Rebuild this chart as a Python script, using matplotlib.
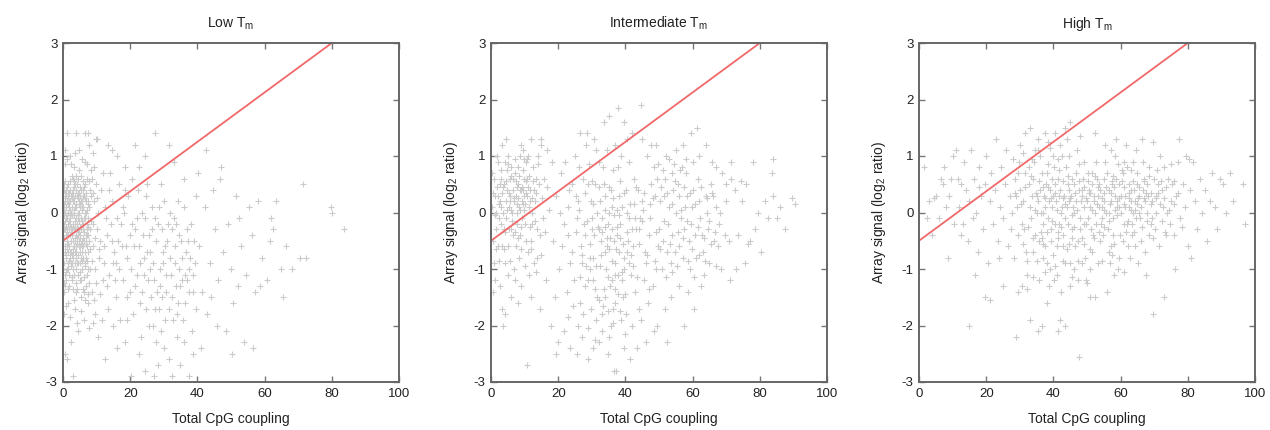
import matplotlib
matplotlib.use("Agg")
import matplotlib.pyplot as plt
import numpy as np

plt.rcParams['font.family'] = ['Liberation Sans', 'DejaVu Sans']
plt.rcParams['axes.unicode_minus'] = False

# fitted line shared by all panels: y = a + b*x
line_x = [0, 80]
line_intercept = -0.5
line_slope = 0.04375

titles = ['Low T$_\\mathregular{m}$', 'Intermediate T$_\\mathregular{m}$', 'High T$_\\mathregular{m}$']

low_pts = [
    (0.3,-0.2),(0.8,0.1),(1.2,-0.5),(1.6,0.3),(2.1,-0.1),(2.5,-0.7),(3.0,0.2),(3.4,-0.3),(3.9,0.4),(4.3,-0.9),
    (4.8,0.0),(5.2,-0.4),(5.7,0.2),(6.1,-0.6),(6.6,0.5),(7.0,-0.2),(7.5,-1.0),(0.5,-1.1),(1.0,-0.8),(1.4,0.5),
    (1.9,-1.3),(2.3,0.0),(2.8,-0.4),(3.2,-1.1),(3.7,0.1),(4.1,-0.2),(4.6,0.6),(5.0,-1.2),(5.5,-0.8),(5.9,0.3),
    (6.4,-0.1),(6.8,-1.3),(7.3,0.2),(7.8,-0.5),(0.2,0.4),(0.7,-0.6),(1.1,-0.3),(1.5,-1.0),(2.0,0.2),(2.4,-0.9),
    (2.9,0.6),(3.3,-0.6),(3.8,-1.4),(4.2,0.3),(4.7,-0.5),(5.1,0.1),(5.6,-1.0),(6.0,-0.3),(6.5,-0.9),(6.9,0.0),
    (7.4,-0.7),(7.9,0.4),(0.4,-1.4),(0.9,0.3),(1.3,-0.1),(1.8,-0.6),(2.2,0.4),(2.7,-1.2),(3.1,-0.2),(3.6,0.5),
    (4.0,-0.7),(4.5,-1.1),(4.9,0.2),(5.4,-0.1),(5.8,-0.6),(6.3,0.3),(6.7,-0.4),(7.2,-1.1),(7.7,0.1),(0.6,0.0),
    (1.0,-1.2),(1.7,0.1),(2.6,-0.3),(3.5,-0.9),(4.4,0.0),(5.3,0.4),(6.2,-1.4),(7.1,0.6),(0.1,-0.7),(8.0,-0.3),
    (0.8,-0.4),(1.5,0.0),(2.3,-0.5),(3.0,-0.8),(3.8,-0.1),(4.5,-0.4),(5.2,-0.7),(6.0,0.1),(6.7,-0.8),(7.5,-0.4),
    (0.3,-0.9),(1.2,0.2),(2.0,-0.8),(2.9,-1.0),(3.7,-0.5),(4.6,-0.1),(5.5,-0.3),(6.3,-0.5),(7.2,-0.6),(0.9,-0.1),
    (1.8,-0.3),(2.6,0.1),(3.4,0.0),(4.3,-0.3),(5.1,-0.9),(6.0,-0.8),(6.9,-0.5),(0.5,0.2),(1.4,-0.7),(2.2,-0.2),
    (3.1,0.3),(3.9,-0.4),(4.8,-0.6),(5.7,-0.5),(6.5,0.0),(7.4,-0.1),
    (0.4,-1.8),(1.6,-1.6),(2.5,-2.3),(3.6,-1.7),(4.4,-2.1),(5.3,-1.5),(6.2,-1.9),(7.3,-1.6),(8.5,-1.4),(9.4,-1.8),
    (0.6,-2.5),(1.3,-2.6),(3.0,-2.9),(2.0,1.0),(3.3,0.8),(4.9,1.1),(6.4,0.9),(7.8,1.2),(9.1,0.8),(10.2,1.3),
    (1.1,1.4),(0.5,1.1),(6.6,1.4),(8.6,0.6),(9.3,0.2),(10.1,-0.3),(10.7,-0.8),(11.3,0.4),(11.8,-1.2),(8.8,-0.6),
    (9.6,-1.0),(10.4,0.0),(11.0,-0.5),(11.9,0.7),(8.3,0.3),(9.0,-0.2),(12.2,-0.9),(12.6,0.1),(8.1,-1.0),(9.8,0.5),
    (13.0,-0.4),(13.8,-1.1),(14.5,0.2),(15.2,-0.7),(15.9,-1.5),(16.6,0.5),(17.3,-0.2),(18.0,-1.2),(18.7,-0.6),(19.4,0.3),
    (20.1,-1.0),(20.8,-1.8),(21.5,-0.3),(22.2,0.4),(22.9,-0.9),(23.6,-1.4),(24.3,-0.1),(25.0,-0.7),(25.7,-2.0),(26.4,0.1),
    (27.1,-1.2),(27.8,-0.5),(28.5,-1.7),(29.2,0.5),(29.9,-0.9),(30.6,-1.4),(31.3,-0.2),(32.0,-1.1),(32.7,-1.9),(33.4,-0.6),
    (34.1,0.2),(34.8,-1.3),(35.5,-0.8),(36.2,-1.6),(36.9,-0.3),(37.6,-1.0),(38.3,-2.1),(39.0,-0.5),(13.4,-1.7),(14.1,0.7),
    (14.9,-0.9),(16.0,-0.1),(17.0,-1.9),(17.8,0.1),(18.9,-1.5),(19.8,-0.4),(20.6,0.6),(21.3,-1.3),(22.5,-0.6),(23.2,-2.2),
    (24.0,-1.1),(24.8,0.3),(25.5,-0.4),(26.2,-1.5),(26.9,-0.9),(27.6,-2.3),(28.3,-0.2),(29.0,-1.3),(29.7,-0.7),(30.4,-1.9),
    (31.1,-0.5),(31.8,0.0),(32.5,-1.5),(33.2,-0.9),(33.9,-1.8),(34.6,-0.4),(35.3,-1.2),(36.0,0.1),(36.7,-0.7),(37.4,-1.4),
    (38.1,-0.2),(38.8,-1.1),(39.5,-1.7),(12.8,-0.1),(13.6,0.4),(15.5,-1.2),(16.3,-0.5),(18.4,0.4),(19.1,-0.8),(21.0,-0.6),
    (23.8,-0.4),(25.3,-1.2),(27.4,-0.1),(30.0,0.2),(31.5,-1.7),(33.7,-0.2),(35.8,-1.9),(37.1,-0.5),(28.8,-1.0),(26.0,-0.7),
    (3.8,1.4),(7.5,1.4),(9.8,1.3),(13.5,1.2),(16.0,1.0),(18.5,0.8),(21.5,1.2),(24.5,1.0),(27.5,1.4),(31.5,1.2),
    (33.0,0.9),(22.5,0.8),(14.5,1.1),(36.0,0.6),
    (10.5,-2.2),(12.4,-2.6),(14.8,-2.0),(16.2,-2.4),(18.4,-2.3),(20.2,-2.9),(22.6,-2.5),(24.5,-2.8),(26.8,-2.0),(28.2,-2.7),
    (30.2,-2.4),(31.6,-2.6),(32.4,-2.9),(33.8,-2.2),(34.8,-2.7),(35.9,-2.3),(37.4,-2.9),(38.8,-2.5),(29.3,-2.1),(27.0,-2.9),
    (40.5,-0.6),(41.4,-1.4),(42.2,0.1),(43.0,-1.8),(43.8,-0.9),(44.5,0.4),(45.3,-0.3),(46.1,-1.2),(46.8,0.6),(47.6,-0.7),
    (48.4,-2.1),(49.1,-0.2),(49.9,-1.0),(50.7,-1.6),(51.5,0.3),(52.2,-1.3),(53.0,-0.6),(53.8,-2.3),(54.6,-1.1),(55.4,0.1),
    (56.2,-0.4),(57.0,-1.4),(58.0,0.2),(59.2,-0.8),(60.6,-1.2),(62.0,-0.1),(62.4,-0.3),(63.5,0.2),(64.8,-1.0),(66.5,-0.6),
    (68.3,-1.0),(70.4,-0.8),(71.4,0.5),(72.3,-0.8),(79.8,0.1),(80.1,0.0),(83.5,-0.3),(41.0,-2.4),(44.0,-1.5),(47.0,0.8),
    (50.3,-2.5),(52.5,-0.1),(56.5,-2.4),(58.6,-1.3),(61.5,-0.5),(65.5,-1.5),(42.5,1.1),(40.2,0.7),(45.8,-2.0),(39.7,0.3),
]

low_dense = [
    (0.15,0.05),(0.35,-0.45),(0.55,0.35),(0.75,-0.25),(0.95,-1.05),(1.15,0.45),(1.35,-0.55),(1.55,0.15),(1.75,-0.85),(1.95,-0.05),
    (2.15,0.55),(2.35,-0.35),(2.55,-1.15),(2.75,0.25),(2.95,-0.65),(3.15,0.05),(3.35,0.45),(3.55,-0.45),(3.75,-1.25),(3.95,0.15),
    (4.15,-0.55),(4.35,0.35),(4.55,-0.75),(4.75,-0.15),(4.95,0.45),(5.15,-1.05),(5.35,-0.25),(5.55,0.05),(5.75,-0.85),(5.95,0.55),
    (6.15,-0.35),(6.35,-1.15),(6.55,0.25),(6.75,-0.55),(6.95,0.35),(7.15,-0.85),(7.35,-0.25),(7.55,0.15),(7.75,-1.25),(7.95,-0.65),
    (0.25,-1.25),(0.65,0.55),(1.05,-0.65),(1.45,-1.35),(1.85,0.35),(2.25,-0.95),(2.65,0.65),(3.05,-1.35),(3.45,-0.15),(3.85,0.65),
    (4.25,-1.35),(4.65,0.15),(5.05,-0.45),(5.45,0.65),(5.85,-1.35),(6.25,0.45),(6.65,-0.95),(7.05,0.05),(7.45,-1.45),(7.85,0.55),
    (8.25,-0.15),(8.65,-0.85),(9.05,0.35),(9.45,-0.45),(9.85,-1.25),(10.25,0.25),(10.65,-0.65),(11.05,-1.45),(8.45,0.75),(9.25,-1.55),
    (0.45,0.85),(1.25,0.95),(2.45,0.85),(3.65,1.05),(4.85,0.75),(5.65,0.95),(7.25,0.85),(8.95,1.05),(0.85,-1.65),(2.05,-1.85),
    (3.25,-1.55),(4.05,-1.95),(5.25,-1.75),(6.45,-1.55),(7.65,-2.05),(8.85,-1.95),(0.35,-0.05),(1.65,-0.15),(2.85,-0.25),(4.45,-0.05),
    (5.0,-0.6),(6.0,-0.2),(2.0,-0.4),(3.0,0.4),(1.0,0.1),(4.0,0.1),(7.0,-0.4),(0.5,-0.7),(1.5,-0.9),(2.5,0.0),
    (3.5,-0.7),(4.5,-0.9),(5.5,0.2),(6.5,-0.7),(1.2,-0.35),(2.7,-0.75),(3.3,-0.05),(4.2,-0.45),(5.8,-0.15),(0.7,0.25),
    (0.2,-0.3),(0.6,-0.15),(1.0,0.4),(1.4,-0.4),(1.8,0.2),(2.2,-0.7),(2.6,0.35),(3.0,-0.5),(3.4,0.2),(3.8,-0.8),
    (4.2,0.5),(4.6,-0.3),(5.0,0.3),(5.4,-0.55),(5.8,0.1),(0.4,0.5),(0.8,-0.75),(1.2,-1.0),(1.6,-0.2),(2.0,0.05),
    (2.4,-0.25),(2.8,-0.9),(3.2,0.55),(3.6,-0.25),(4.0,-1.0),(4.4,0.25),(4.8,-0.35),(5.2,0.15),(5.6,-0.7),(6.0,0.4),
    (0.3,0.15),(0.7,-1.3),(1.1,-0.55),(1.5,0.35),(1.9,-1.1),(2.3,0.3),(2.7,-0.05),(3.1,-0.7),(3.5,0.3),(3.9,-0.6),
    (4.3,-0.2),(4.7,0.35),(5.1,-0.25),(5.5,-1.2),(5.9,-0.45),(6.3,-0.1),(6.7,0.2),(7.1,-0.3),(0.1,-1.0),(0.5,-0.3),
    (12.3,-0.6),(14.2,-0.2),(15.8,-0.9),(17.6,-0.6),(19.0,-1.9),(20.4,-0.2),(22.0,-1.1),(23.4,0.0),(24.6,-1.7),(26.6,-0.3),
    (28.0,-1.4),(29.5,-0.3),(30.8,-1.1),(32.3,-0.3),(33.5,-1.3),(35.0,-0.5),(36.4,-1.1),(37.9,-0.8),(13.2,-1.3),(16.8,-1.0),
    (20.0,-1.4),(24.2,-0.8),(27.3,-1.7),(30.4,-0.6),(34.3,-1.6),(38.6,-1.4),(14.6,-0.5),(18.2,0.0),(22.9,-1.6),(25.8,-1.0),
    (29.6,-1.5),(31.9,-0.8),(34.5,-1.0),(36.9,-1.2),(39.3,-0.9),(21.9,-0.1),(25.1,0.5),(28.7,0.1),(32.9,-0.1),(11.6,-1.9),
]

mid_pts = [
    (0.4,0.1),(1.0,0.6),(1.6,-0.3),(2.2,0.9),(2.8,0.2),(3.4,-0.6),(4.0,0.5),(4.6,-0.1),(5.2,1.0),(5.8,0.3),
    (6.4,-0.4),(7.0,0.7),(7.6,0.0),(8.2,-0.8),(8.8,0.4),(9.4,1.1),(10.0,-0.2),(10.6,0.6),(11.2,0.1),(11.8,-0.5),
    (12.4,0.8),(13.0,0.2),(13.6,-0.3),(14.2,0.5),(14.8,1.2),(15.4,-0.1),(0.7,-0.5),(1.3,0.3),(1.9,1.0),(2.5,-0.1),
    (3.1,0.6),(3.7,0.0),(4.3,-0.9),(4.9,0.4),(5.5,-0.3),(6.1,0.8),(6.7,0.2),(7.3,-0.6),(7.9,0.5),(8.5,1.0),
    (9.1,-0.1),(9.7,0.3),(10.3,0.9),(10.9,-0.7),(11.5,0.4),(12.1,0.0),(12.7,-0.9),(13.3,0.6),(13.9,1.0),(14.5,-0.4),
    (0.2,0.7),(0.9,-0.9),(1.5,0.0),(2.1,-0.6),(2.7,0.5),(3.3,1.2),(3.9,-0.3),(4.5,0.2),(5.1,-0.6),(5.7,0.6),
    (6.3,0.0),(6.9,-1.0),(7.5,0.3),(8.1,0.8),(8.7,-0.4),(9.3,0.2),(9.9,0.6),(10.5,-0.5),(11.1,1.0),(11.7,0.2),
    (12.3,-0.2),(12.9,0.4),(4.1,0.9),(5.4,0.1),(6.6,0.4),(7.8,-0.2),(8.4,0.1),(9.6,0.4),(10.8,0.3),(3.0,-0.2),
    (2.0,0.3),(1.2,-1.2),(0.5,-1.4),(2.6,-1.3),(5.0,-1.1),(7.2,-1.2),(9.0,-1.3),(11.4,-1.1),(13.8,-0.8),(15.8,0.6),
    (3.2,-1.7),(4.3,-1.8),(6.0,-1.5),(8.0,-1.6),(10.8,-2.7),(3.5,-2.0),(12.0,-1.5),(14.5,-1.7),(16.5,-1.2),(17.9,-2.0),
    (4.5,1.3),(9.0,1.2),(12.0,1.3),(15.0,1.3),(16.8,1.1),(18.2,0.9),
    (18.5,-0.5),(19.3,0.3),(20.1,-1.0),(20.9,0.7),(21.7,-0.2),(22.5,-1.4),(23.3,0.4),(24.1,-0.7),(24.9,1.0),(25.7,-0.1),
    (26.5,-1.6),(27.3,0.6),(28.1,-0.4),(28.9,-1.2),(29.7,0.2),(30.5,-0.8),(31.3,1.1),(32.1,-0.3),(32.9,-1.8),(33.7,0.5),
    (34.5,-0.6),(35.3,-1.3),(36.1,0.1),(36.9,-0.9),(37.7,0.8),(38.5,-0.2),(39.3,-1.5),(40.1,0.4),(40.9,-0.5),(41.7,-1.1),
    (42.5,0.6),(43.3,-0.3),(44.1,-1.7),(44.9,0.2),(45.7,-0.7),(46.5,1.0),(47.3,-0.1),(48.1,-1.3),(48.9,0.3),(49.7,-0.6),
    (19.0,-1.5),(20.6,0.0),(22.0,0.9),(23.6,-0.9),(25.2,0.3),(26.8,-0.6),(28.4,1.2),(30.0,-0.1),(31.6,-1.5),(33.2,0.8),
    (34.8,-0.2),(36.4,-1.7),(38.0,0.3),(39.6,-0.8),(41.2,0.9),(42.8,-1.4),(44.4,-0.1),(46.0,-0.9),(47.6,0.5),(49.2,-1.0),
    (21.2,-0.6),(23.0,0.1),(24.6,-1.2),(26.2,0.8),(27.8,-0.2),(29.4,-1.0),(31.0,0.5),(32.6,-0.5),(34.2,-1.0),(35.8,0.4),
    (37.4,-0.4),(39.0,-1.2),(40.6,0.0),(42.2,-0.6),(43.8,0.4),(45.4,-1.2),(47.0,-0.4),(48.6,0.8),(29.0,0.5),(30.8,-0.4),
    (32.4,0.2),(33.9,-0.7),(35.0,0.0),(36.6,-0.5),(37.9,-1.1),(34.0,-1.5),(35.6,-2.0),(37.0,-1.6),(38.8,-1.9),(33.0,-2.1),
    (31.2,-1.9),(29.8,-1.7),(27.5,-1.8),(25.8,-2.0),(40.3,-1.8),(42.0,-2.0),(44.6,-1.9),(46.8,-1.6),(28.0,-1.3),(30.3,-1.2),
    (36.0,-1.2),(38.2,-0.7),(41.0,-0.9),(43.0,-0.1),(26.0,0.2),(24.0,0.5),(22.8,-0.4),(27.0,-0.9),(32.0,0.9),(34.4,1.1),
    (36.8,1.2),(38.6,1.0),(40.4,1.3),(30.6,1.3),(28.6,1.4),(26.4,1.4),(33.6,1.6),(35.2,1.7),(39.6,1.6),(44.5,1.9),
    (37.8,1.85),(42.0,1.4),(45.0,1.3),
    (20.0,-2.3),(21.8,-2.1),(23.5,-2.4),(25.5,-2.5),(27.2,-2.2),(28.8,-2.6),(30.5,-2.4),(32.2,-2.3),(34.8,-2.5),(36.5,-2.8),
    (37.2,-2.8),(39.5,-2.4),(41.5,-2.6),(43.5,-2.4),(46.0,-2.3),(48.5,-2.1),(19.2,-2.5),(35.0,-2.2),
    (50.3,0.2),(51.1,-0.5),(51.9,0.6),(52.7,-0.2),(53.5,-0.9),(54.3,0.4),(55.1,0.0),(55.9,-0.6),(56.7,0.8),(57.5,-0.3),
    (58.3,0.3),(59.1,-1.0),(59.9,0.1),(60.7,-0.4),(61.5,0.6),(62.3,-0.1),(63.1,-0.7),(63.9,0.3),(64.7,-0.3),(65.5,0.5),
    (66.3,-0.5),(67.1,0.1),(67.9,-0.2),(68.7,0.7),(69.5,-0.4),(50.8,-1.0),(52.2,1.0),(53.0,0.1),(54.0,-0.4),(55.6,0.5),
    (56.4,-0.1),(57.2,-0.8),(58.0,0.7),(58.8,-0.5),(60.2,0.4),(61.0,-0.8),(61.8,0.2),(62.8,-0.4),(64.2,0.0),(65.0,-0.9),
    (66.0,0.3),(67.5,-0.6),(68.2,0.0),(70.0,0.2),(70.8,-0.5),(71.4,0.6),(49.5,0.6),(50.0,-0.3),(53.8,0.7),(56.0,0.3),
    (57.8,0.1),(59.5,-0.2),(60.0,0.9),(62.0,1.0),(63.5,-1.1),(65.8,0.9),(67.0,0.8),(68.5,-1.0),(69.8,0.5),(54.8,-0.7),
    (52.4,-0.7),(51.4,0.3),(55.0,1.1),(57.0,1.2),(59.5,1.4),(61.4,1.5),(64.0,1.2),(49.0,1.2),(47.5,1.2),(56.0,-1.3),
    (58.5,-1.4),(60.5,-1.7),(62.5,-1.3),(53.5,-1.5),(51.8,-1.7),(49.5,-2.0),(57.5,-2.0),(52.5,-2.3),
    (71.0,-1.2),(72.5,0.4),(73.5,-0.4),(74.8,0.2),(75.5,-0.9),(76.0,0.5),(77.2,-0.5),(78.0,0.9),(78.6,-0.3),(79.5,0.0),
    (80.3,-0.7),(81.5,0.2),(82.5,-0.1),(83.5,0.7),(84.0,0.3),(85.0,-0.1),(86.0,0.1),(87.5,-0.3),(89.5,0.25),(90.5,0.15),
    (83.8,0.95),(76.5,-0.55),(73.0,-1.0),(71.5,0.9),(74.5,0.55),
]

mid_dense = [
    (2.3,0.15),(3.6,0.45),(4.7,0.05),(5.9,0.65),(6.8,0.25),(7.7,0.45),(8.6,0.05),(9.5,0.75),(10.4,0.35),(11.3,0.65),
    (12.2,0.25),(13.1,-0.15),(2.9,0.75),(4.2,-0.35),(5.3,0.35),(6.2,-0.15),(7.1,0.95),(8.0,0.25),(8.9,-0.25),(9.8,0.05),
    (10.7,0.95),(11.6,-0.25),(12.5,0.55),(3.3,0.35),(4.8,0.75),(6.0,0.05),(7.4,0.55),(8.3,0.65),(9.2,0.45),(10.1,0.15),
    (11.0,0.45),(1.8,0.45),(1.1,-0.05),(0.6,0.35),(13.5,0.35),(14.0,0.85),(15.2,0.25),(16.0,-0.35),(16.6,0.45),(17.4,0.05),
    (1.4,-0.65),(2.4,-0.85),(3.8,-0.65),(5.6,-0.85),(7.0,-0.35),(8.8,-0.65),(10.2,-0.95),(12.0,-0.65),(13.4,-1.05),(15.0,-0.75),
    (3.0,0.1),(4.4,0.55),(5.6,0.2),(6.5,0.6),(7.6,0.15),(8.5,0.4),(9.4,0.15),(10.5,0.55),(6.0,-0.3),(8.0,-0.45),
    (5.0,0.85),(9.8,0.95),
    (25.3,-0.35),(26.1,0.05),(27.0,-0.75),(27.9,0.35),(28.7,-0.15),(29.6,-0.55),(30.4,0.15),(31.3,-0.95),(32.1,0.45),(33.0,-0.35),
    (33.8,0.05),(34.7,-1.15),(35.5,-0.45),(36.3,0.25),(37.2,-0.65),(38.0,-0.05),(38.9,-1.05),(39.7,0.35),(40.5,-0.35),(41.4,0.15),
    (42.2,-0.95),(43.1,0.45),(43.9,-0.55),(44.8,-0.15),(45.6,0.35),(46.5,-0.75),(47.3,0.15),(26.6,-1.15),(28.3,-0.95),(30.1,0.55),
    (31.8,-0.25),(33.5,-1.35),(35.2,0.45),(36.9,-1.35),(38.4,0.55),(40.0,-1.45),(41.8,-0.75),(43.5,-1.15),(45.2,0.05),(46.9,-1.35),
    (34.0,-0.25),(35.9,-0.85),(37.6,0.05),(32.6,-0.75),(30.9,-1.35),(29.1,0.85),(36.4,0.75),(39.2,-0.55),(42.7,0.15),(33.3,-1.65),
    (34.9,-1.75),(36.2,-1.95),(37.8,-1.45),(38.3,-1.75),(32.0,-1.55),(39.9,-2.15),(29.0,-2.05),(31.0,-2.25),(24.4,-1.65),(23.0,-1.85),
    (30.0,-0.3),(31.5,0.0),(33.0,-0.1),(34.5,-0.45),(36.0,-0.3),(37.5,-0.25),(39.0,0.1),(40.5,-0.7),(42.0,-0.3),(35.0,-0.65),
    (32.5,-0.95),(36.5,-0.05),(38.5,-0.45),(41.0,-0.1),(34.0,0.3),(29.5,-0.8),(44.0,-0.3),(37.0,-1.1),(39.5,-1.0),(33.5,0.5),
    (48.2,0.25),(49.0,-0.35),(50.6,0.45),(51.5,-0.15),(52.3,0.35),(53.2,-0.55),(54.0,0.15),(54.9,0.55),(55.7,-0.35),(56.6,0.05),
    (57.4,0.45),(58.2,-0.15),(59.1,0.35),(59.9,-0.65),(60.8,0.15),(61.6,-0.25),(62.5,0.45),(63.3,-0.45),(64.2,0.25),(65.0,-0.15),
    (65.9,0.35),(66.7,-0.35),(48.8,-0.85),(50.4,-0.65),(52.0,-1.15),(53.8,-1.05),(55.3,-0.95),(57.0,-0.45),(58.6,-0.85),(60.3,-1.15),
    (62.0,-0.75),(63.8,-0.85),(65.4,-0.55),(67.0,-0.95),(49.8,0.85),(51.2,0.75),(53.0,0.95),(54.6,0.85),(56.2,0.75),(58.0,0.95),
]

high_pts = [
    (1.5,0.8),(3.0,0.2),(4.0,-0.4),(5.0,0.3),(6.0,-0.1),(7.0,0.5),(7.5,0.8),(8.5,-0.8),(9.0,0.3),(10.0,1.0),
    (10.5,-0.2),(11.5,0.6),(12.0,0.1),(12.5,-0.4),(13.5,0.9),(14.0,0.4),(14.5,-0.5),(15.0,0.2),(15.5,1.1),(16.0,-0.1),
    (16.5,0.6),(17.0,0.0),(17.5,-0.7),(18.0,0.8),(18.5,0.3),(19.0,-0.3),(19.5,0.5),(20.0,1.0),(20.5,-0.9),(21.0,0.2),
    (21.5,0.7),(22.0,-0.2),(22.5,0.4),(23.0,1.3),(23.5,-0.5),(24.0,0.1),(24.5,0.8),(25.0,-0.1),(25.5,0.5),(26.0,1.1),
    (26.5,-0.6),(27.0,0.3),(11.0,1.1),(13.0,-0.2),(8.0,0.1),(6.5,0.6),(9.5,0.6),(2.5,-0.1),(16.8,-1.1),(19.5,-1.5),
    (21.0,-1.55),(15.0,-2.0),(4.5,0.25),(12.5,0.5),(17.8,0.45),(23.8,-0.8),
    (27.8,0.0),(28.6,0.6),(29.4,-0.4),(30.2,1.2),(31.0,0.2),(31.8,-0.7),(32.6,0.5),(33.4,-0.1),(34.2,0.9),(35.0,0.3),
    (35.8,-0.5),(36.6,0.7),(37.4,0.1),(38.2,-0.9),(39.0,0.4),(39.8,1.0),(40.6,-0.2),(41.4,0.6),(42.2,0.0),(43.0,-0.6),
    (43.8,0.8),(44.6,0.2),(45.4,-0.3),(46.2,0.5),(47.0,1.1),(47.8,-0.1),(48.6,0.4),(49.4,-0.8),(50.2,0.7),(51.0,0.1),
    (51.8,-0.4),(52.6,0.9),(53.4,0.3),(54.2,-0.2),(55.0,0.6),(55.8,0.0),(56.6,-0.7),(57.4,0.5),(58.2,1.0),(59.0,0.2),
    (59.8,-0.4),(60.6,0.7),(61.4,0.1),(62.2,-0.6),(63.0,0.4),(63.8,0.9),(64.6,-0.1),(65.4,0.3),(66.2,-0.5),(67.0,0.6),
    (67.8,0.0),(68.6,0.8),(69.4,0.2),(70.2,-0.3),(71.0,0.5),(71.8,1.0),(72.6,0.1),(73.4,-0.4),(74.2,0.6),(75.0,0.2),
    (28.2,-0.8),(29.0,0.3),(29.8,0.9),(30.6,-0.2),(31.4,0.7),(32.2,-1.1),(33.0,0.1),(33.8,0.6),(34.6,-0.4),(35.4,1.1),
    (36.2,0.0),(37.0,-0.8),(37.8,0.5),(38.6,0.2),(39.4,-0.3),(40.2,0.8),(41.0,-0.6),(41.8,0.3),(42.6,1.0),(43.4,-0.1),
    (44.2,0.5),(45.0,-0.9),(45.8,0.1),(46.6,0.7),(47.4,-0.5),(48.2,0.2),(49.0,0.9),(49.8,-0.2),(50.6,0.4),(51.4,-0.7),
    (52.2,0.3),(53.0,0.6),(53.8,-0.5),(54.6,0.1),(55.4,0.9),(56.2,-0.3),(57.0,0.2),(57.8,-0.1),(58.6,0.6),(59.4,-0.8),
    (60.2,0.3),(61.0,0.9),(61.8,-0.2),(62.6,0.5),(63.4,-0.4),(64.2,0.2),(65.0,0.7),(65.8,-0.1),(66.6,0.4),(67.4,-0.7),
    (68.2,0.3),(69.0,-0.2),(69.8,0.6),(70.6,0.0),(71.4,-0.6),(72.2,0.4),(73.0,0.8),(73.8,0.0),(74.6,-0.2),(75.4,0.5),
    (36.0,0.4),(37.2,0.3),(38.4,-0.1),(39.6,0.1),(40.8,0.2),(42.0,0.4),(43.2,0.3),(44.4,-0.2),(45.6,0.6),(46.8,0.2),
    (48.0,-0.3),(49.2,0.1),(50.4,-0.1),(51.6,0.5),(52.8,-0.2),(54.0,0.4),(55.2,0.2),(56.4,0.4),(57.6,-0.4),(58.8,0.1),
    (60.0,0.0),(61.2,0.3),(62.4,0.1),(63.6,0.0),(64.8,0.5),(66.0,0.1),(67.2,0.2),(68.4,-0.4),(35.2,0.0),(36.8,-0.2),
    (38.0,0.7),(39.2,-0.5),(40.4,0.5),(41.6,-0.2),(42.8,-0.4),(44.0,0.1),(45.2,0.3),(46.4,-0.6),(47.6,0.4),(48.8,0.6),
    (50.0,0.2),(51.2,-0.3),(52.4,0.0),(53.6,0.1),(54.8,-0.4),(56.0,0.7),(57.2,-0.6),(58.4,0.3),(59.6,0.5),(60.8,-0.5),
    (62.0,0.8),(63.2,0.2),(64.4,-0.6),(65.6,0.0),(66.8,0.9),(68.0,0.5),(69.2,-0.1),(70.4,0.3),(30.0,0.4),(32.8,0.8),
    (34.0,-0.7),(31.2,-0.3),(29.2,0.1),(33.6,0.3),(37.6,-0.6),(39.0,-1.0),(41.2,-1.1),(43.6,-0.9),(46.0,-1.0),(48.4,-0.9),
    (51.0,-1.0),(53.2,-0.9),(56.8,-0.9),(59.2,-1.0),(62.8,-0.8),(65.2,-0.9),(67.6,-1.1),(35.6,-1.2),(38.8,-1.3),(40.2,-1.2),
    (42.4,-1.4),(44.8,-1.3),(47.2,-1.2),(30.6,-1.3),(29.6,-1.4),(32.0,-1.35),(49.6,-1.2),
    (33.0,1.5),(35.5,1.3),(37.5,1.4),(38.5,1.25),(40.5,1.4),(43.5,1.5),(45.0,1.6),(48.0,1.35),(52.5,1.4),(55.5,1.2),
    (58.5,1.3),(61.5,1.2),(64.5,1.1),(66.5,1.3),(69.5,1.25),(31.5,1.4),(34.5,1.1),(42.0,1.2),(44.0,1.3),(57.0,1.1),
    (75.8,-0.4),(76.5,0.3),(77.0,0.9),(77.8,-0.1),(78.5,0.5),(79.2,0.1),(80.0,-0.6),(80.8,0.4),(81.5,0.9),(82.0,0.2),
    (82.8,-0.3),(83.5,0.6),(84.2,0.0),(85.0,0.4),(85.8,-0.5),(86.5,0.2),(87.2,0.7),(88.0,0.1),(88.8,-0.3),(89.5,0.6),
    (90.5,0.5),(91.5,0.0),(92.5,0.7),(93.5,0.2),(96.5,0.5),(97.0,-0.2),(77.5,1.3),(79.5,1.0),(80.5,0.95),(76.2,-1.0),
    (81.0,-0.8),
    (36.5,-2.0),(35.5,-2.1),(33.0,-1.9),(42.0,-1.9),(43.5,-2.0),(41.5,-2.1),(28.8,-2.2),(47.5,-2.55),(51.0,-1.5),(52.5,-1.5),
    (56.0,-1.4),(58.0,-1.1),(69.5,-1.8),(73.0,-1.5),(38.0,-1.6),(25.0,-1.3),
]

high_dense = [
    (30.4,0.15),(31.6,0.45),(32.4,-0.25),(33.2,0.65),(34.4,0.05),(35.6,0.55),(36.4,-0.35),(37.6,0.25),(38.4,0.85),(39.6,-0.15),
    (40.4,0.35),(41.6,0.75),(42.4,-0.25),(43.6,0.15),(44.4,0.65),(45.6,-0.05),(46.4,0.35),(47.6,0.85),(48.4,-0.45),(49.6,0.25),
    (50.4,0.55),(51.6,0.05),(52.4,0.65),(53.6,-0.35),(54.4,0.25),(55.6,0.45),(56.4,-0.15),(57.6,0.65),(58.4,0.05),(59.6,0.25),
    (60.4,0.75),(61.6,-0.35),(62.4,0.35),(63.6,0.55),(64.4,0.05),(65.6,0.45),(66.4,-0.25),(67.6,0.35),(68.4,0.65),(69.6,-0.45),
    (70.4,0.25),(71.6,0.15),(72.4,-0.15),(73.6,0.45),(74.4,0.05),(76.0,0.15),(77.2,0.35),(78.2,-0.25),(31.0,-0.55),(33.8,-0.45),
    (35.0,-0.85),(36.9,-0.55),(38.2,-0.35),(40.0,-0.75),(41.4,-0.45),(42.9,-0.85),(44.7,-0.55),(46.1,-0.25),(47.2,-0.85),(49.0,-0.55),
    (50.8,-0.65),(52.0,-0.45),(53.2,0.45),(55.0,-0.25),(56.8,0.15),(58.0,-0.55),(59.2,0.85),(60.9,0.15),(62.1,-0.15),(63.0,0.75),
    (64.0,-0.35),(65.2,0.25),(66.9,0.55),(68.0,-0.15),(69.1,0.35),(70.9,0.75),(72.0,0.55),(73.2,-0.35),(74.9,0.85),(75.9,0.55),
    (34.8,0.35),(37.0,0.45),(39.2,0.25),(41.0,0.05),(43.0,0.55),(45.0,0.25),(47.0,0.05),(49.0,0.45),(51.0,0.35),(53.0,0.15),
    (55.0,0.05),(57.0,0.35),(59.0,-0.05),(61.0,0.45),(63.0,0.05),(65.0,0.15),(67.0,0.25),(69.0,0.15),(71.0,0.35),(73.0,0.25),
    (36.0,1.0),(39.0,1.15),(41.5,0.95),(44.5,1.0),(33.5,0.95),(31.0,1.05),(29.5,0.7),(28.0,0.95),(27.5,-0.3),(28.5,0.35),
    (37.5,-1.05),(40.5,-0.95),(45.5,-1.15),(50.0,-1.25),(54.5,-0.85),(61.0,-1.05),(34.0,-1.15),(32.0,-0.85),(44.0,-0.65),(57.5,-0.75),
    (35.5,0.2),(37.0,0.0),(38.5,0.45),(40.0,0.3),(41.5,-0.35),(43.0,0.25),(44.5,0.4),(46.0,0.0),(47.5,0.55),(49.0,-0.2),
    (50.5,0.35),(52.0,0.2),(53.5,0.5),(55.0,0.35),(56.5,0.0),(58.0,0.45),(59.5,0.1),(61.0,-0.2),(62.5,0.25),(64.0,0.4),
    (36.5,-0.45),(39.5,0.6),(42.5,0.1),(45.5,-0.45),(48.5,0.3),(51.5,0.7),(54.5,-0.1),(57.5,0.55),(60.5,0.55),(63.5,-0.2),
]

panels = [low_pts + low_dense, mid_pts + mid_dense, high_pts + high_dense]
lefts = [63 / 1270, 491 / 1270, 919 / 1270]

fig = plt.figure(figsize=(12.7, 4.3), dpi=100)

for pts, title, left in zip(panels, titles, lefts):
    ax = fig.add_axes([left, 48 / 430, 336 / 1270, 339 / 430])
    xs, ys = zip(*pts)
    ax.plot(xs, ys, '+', color='#cbcbcb', markersize=4, markeredgewidth=0.8)
    lx = np.array(line_x)
    ax.plot(lx, line_intercept + line_slope * lx, color='#f06868', lw=1.3)

    ax.set_xlim(0, 100)
    ax.set_ylim(-3, 3)
    ax.set_xticks([0, 20, 40, 60, 80, 100])
    ax.set_yticks([-3, -2, -1, 0, 1, 2, 3])
    ax.tick_params(direction='in', length=4, width=1, color='#777777',
                   labelsize=9.5, labelcolor='#222222', top=True, right=True, pad=4)
    for s in ax.spines.values():
        s.set_color('#666666')
        s.set_linewidth(1.4)

    ax.set_title(title, fontsize=10, color='#222222', pad=11)
    ax.set_xlabel('Total CpG coupling', fontsize=10, color='#222222', labelpad=9)
    ax.set_ylabel('Array signal (log$_\\mathregular{2}$ ratio)', fontsize=10, color='#222222', labelpad=10)

fig.savefig('out.png', dpi=100)
